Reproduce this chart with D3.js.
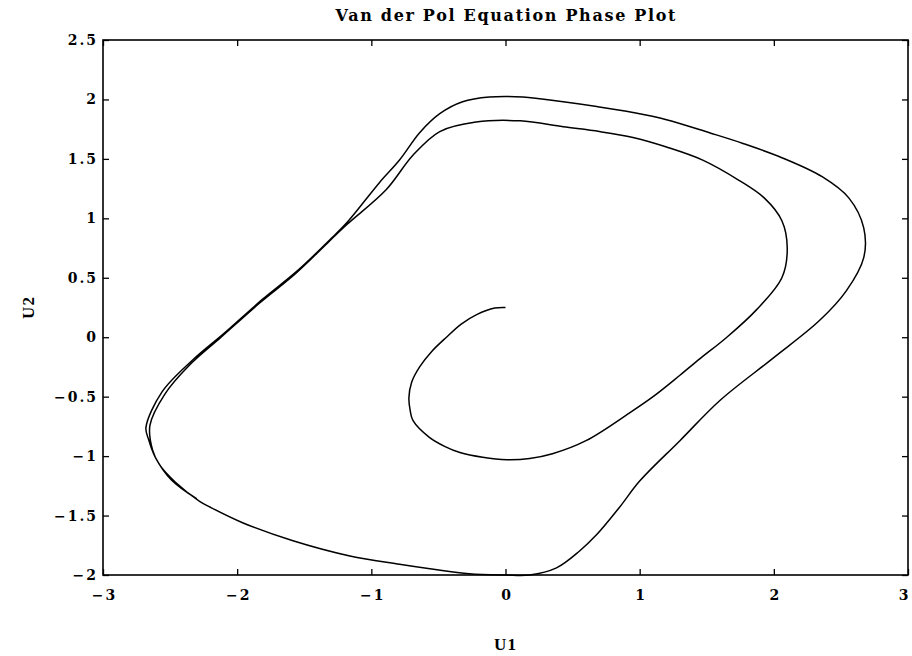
<!DOCTYPE html>
<html>
<head>
<meta charset="utf-8">
<script src="https://cdn.jsdelivr.net/npm/d3@7/dist/d3.min.js"></script>
<style>
  html, body { margin: 0; padding: 0; background: #fff; }
  svg { display: block; }
  .tick text { font-family: "DejaVu Serif", serif; font-weight: bold; fill: #000; }
  .title { font-family: "DejaVu Serif", serif; font-weight: bold; fill: #000; }
  .axis-label { font-family: "Liberation Serif", "Times New Roman", serif; font-weight: bold; fill: #000; }
</style>
</head>
<body>
<svg id="chart" width="912" height="656"></svg>
<script>
// Van der Pol trajectory: state components sampled along the solution
const u1 = [
  0.00, -0.08, -0.215, -0.33, -0.44, -0.55, -0.64, -0.70, -0.72, -0.71, -0.69, -0.57, -0.45, -0.34, -0.17,
  0.01, 0.18, 0.35, 0.60, 0.92, 1.10, 1.30, 1.45, 1.65, 1.87, 2.06, 2.10, 2.06, 1.93, 1.74,
  1.47, 1.20, 0.95, 0.70, 0.43, 0.11, -0.22, -0.49, -0.69, -0.89, -1.18, -1.32, -1.57, -1.83, -2.12,
  -2.36, -2.54, -2.65, -2.63, -2.58, -2.46, -2.28, -2.20, -1.96, -1.59, -1.16, -0.79, -0.55, -0.27, 0.00,
  0.18, 0.38, 0.55, 0.68, 0.85, 1.00, 1.30, 1.60, 1.99, 2.34, 2.54, 2.67, 2.67, 2.56, 2.36,
  2.06, 1.77, 1.52, 1.20, 0.95, 0.68, 0.43, 0.13, -0.12, -0.32, -0.49, -0.64, -0.79, -0.94, -1.17,
  -1.30, -1.55, -1.81, -2.10, -2.33, -2.56, -2.68, -2.66, -2.61, -2.49, -2.30
];
const u2 = [
  0.25, 0.245, 0.19, 0.11, 0.00, -0.12, -0.25, -0.38, -0.51, -0.62, -0.70, -0.84, -0.92, -0.97, -1.01,
  -1.03, -1.02, -0.98, -0.87, -0.64, -0.50, -0.32, -0.18, 0.00, 0.23, 0.50, 0.75, 0.98, 1.17, 1.32,
  1.49, 1.60, 1.68, 1.73, 1.77, 1.82, 1.81, 1.73, 1.53, 1.24, 0.95, 0.80, 0.53, 0.29, 0.00,
  -0.24, -0.48, -0.74, -0.95, -1.07, -1.22, -1.38, -1.43, -1.56, -1.71, -1.84, -1.91, -1.95, -1.99, -2.00,
  -2.00, -1.94, -1.80, -1.66, -1.43, -1.21, -0.87, -0.53, -0.18, 0.14, 0.39, 0.67, 0.92, 1.17, 1.35,
  1.51, 1.63, 1.72, 1.83, 1.89, 1.94, 1.98, 2.02, 2.02, 1.98, 1.88, 1.72, 1.49, 1.30, 0.98,
  0.83, 0.56, 0.32, 0.03, -0.19, -0.46, -0.76, -0.86, -1.01, -1.20, -1.36
];

// Axis ticks
const xTicks = [-3, -2, -1, 0, 1, 2, 3];
const yTicks = [-2, -1.5, -1, -0.5, 0, 0.5, 1, 1.5, 2, 2.5];

const titleText = "Van der Pol Equation Phase Plot";
const xLabel = "U1";
const yLabel = "U2";

const svg = d3.select("#chart");
const plotL = 103, plotR = 908, plotT = 40, plotB = 575;

const x = d3.scaleLinear().domain([-3, 3]).range([plotL, plotR]);
const y = d3.scaleLinear().domain([-2, 2.5]).range([plotB, plotT]);

const fmt = d => (d < 0 ? "\u2212" : "") + Math.abs(d);

// Frame
svg.append("rect")
  .attr("x", plotL).attr("y", plotT)
  .attr("width", plotR - plotL).attr("height", plotB - plotT)
  .attr("fill", "none").attr("stroke", "#000").attr("stroke-width", 1.6);

// Ticks pointing inward on all four sides
const tickLen = 6;
const gx = svg.append("g").attr("transform", `translate(0,${plotB})`)
  .call(d3.axisBottom(x).tickValues(xTicks).tickSize(-tickLen).tickPadding(15).tickFormat(fmt));
const gxTop = svg.append("g").attr("transform", `translate(0,${plotT})`)
  .call(d3.axisTop(x).tickValues(xTicks).tickSize(-tickLen).tickFormat(""));
const gy = svg.append("g").attr("transform", `translate(${plotL},0)`)
  .call(d3.axisLeft(y).tickValues(yTicks).tickSize(-tickLen).tickPadding(5).tickFormat(fmt));
const gyRight = svg.append("g").attr("transform", `translate(${plotR},0)`)
  .call(d3.axisRight(y).tickValues(yTicks).tickSize(-tickLen).tickFormat(""));

[gx, gxTop, gy, gyRight].forEach(g => {
  g.select(".domain").remove();
  g.selectAll(".tick line").attr("stroke", "#000").attr("stroke-width", 1.3);
  g.selectAll(".tick text")
    .style("font-size", "14px")
    .style("letter-spacing", "2px");
});
// the last x label sits at the window edge; keep it inside
gx.selectAll(".tick text").attr("dx", d => d === 3 ? "-4px" : "1px");

// Trajectory
const pts = u1.map((v, i) => [v, u2[i]]);
const line = d3.line()
  .x(d => x(d[0]))
  .y(d => y(d[1]))
  .curve(d3.curveCatmullRom.alpha(0.5));

svg.append("path")
  .datum(pts)
  .attr("d", line)
  .attr("fill", "none")
  .attr("stroke", "#000")
  .attr("stroke-width", 1.5)
  .attr("stroke-linejoin", "round");

// Titles
svg.append("text").attr("class", "title")
  .attr("x", (plotL + plotR) / 2).attr("y", 21)
  .attr("text-anchor", "middle")
  .attr("textLength", 340)
  .attr("lengthAdjust", "spacing")
  .style("font-size", "16px")
  .text(titleText);

svg.append("text").attr("class", "axis-label")
  .attr("x", (plotL + plotR) / 2).attr("y", 650)
  .attr("text-anchor", "middle")
  .style("font-size", "17px")
  .style("letter-spacing", "1px")
  .text(xLabel);

svg.append("text").attr("class", "axis-label")
  .attr("transform", `translate(34,${(plotT + plotB) / 2}) rotate(-90)`)
  .attr("text-anchor", "middle")
  .style("font-size", "17px")
  .style("letter-spacing", "1px")
  .text(yLabel);
</script>
</body>
</html>
